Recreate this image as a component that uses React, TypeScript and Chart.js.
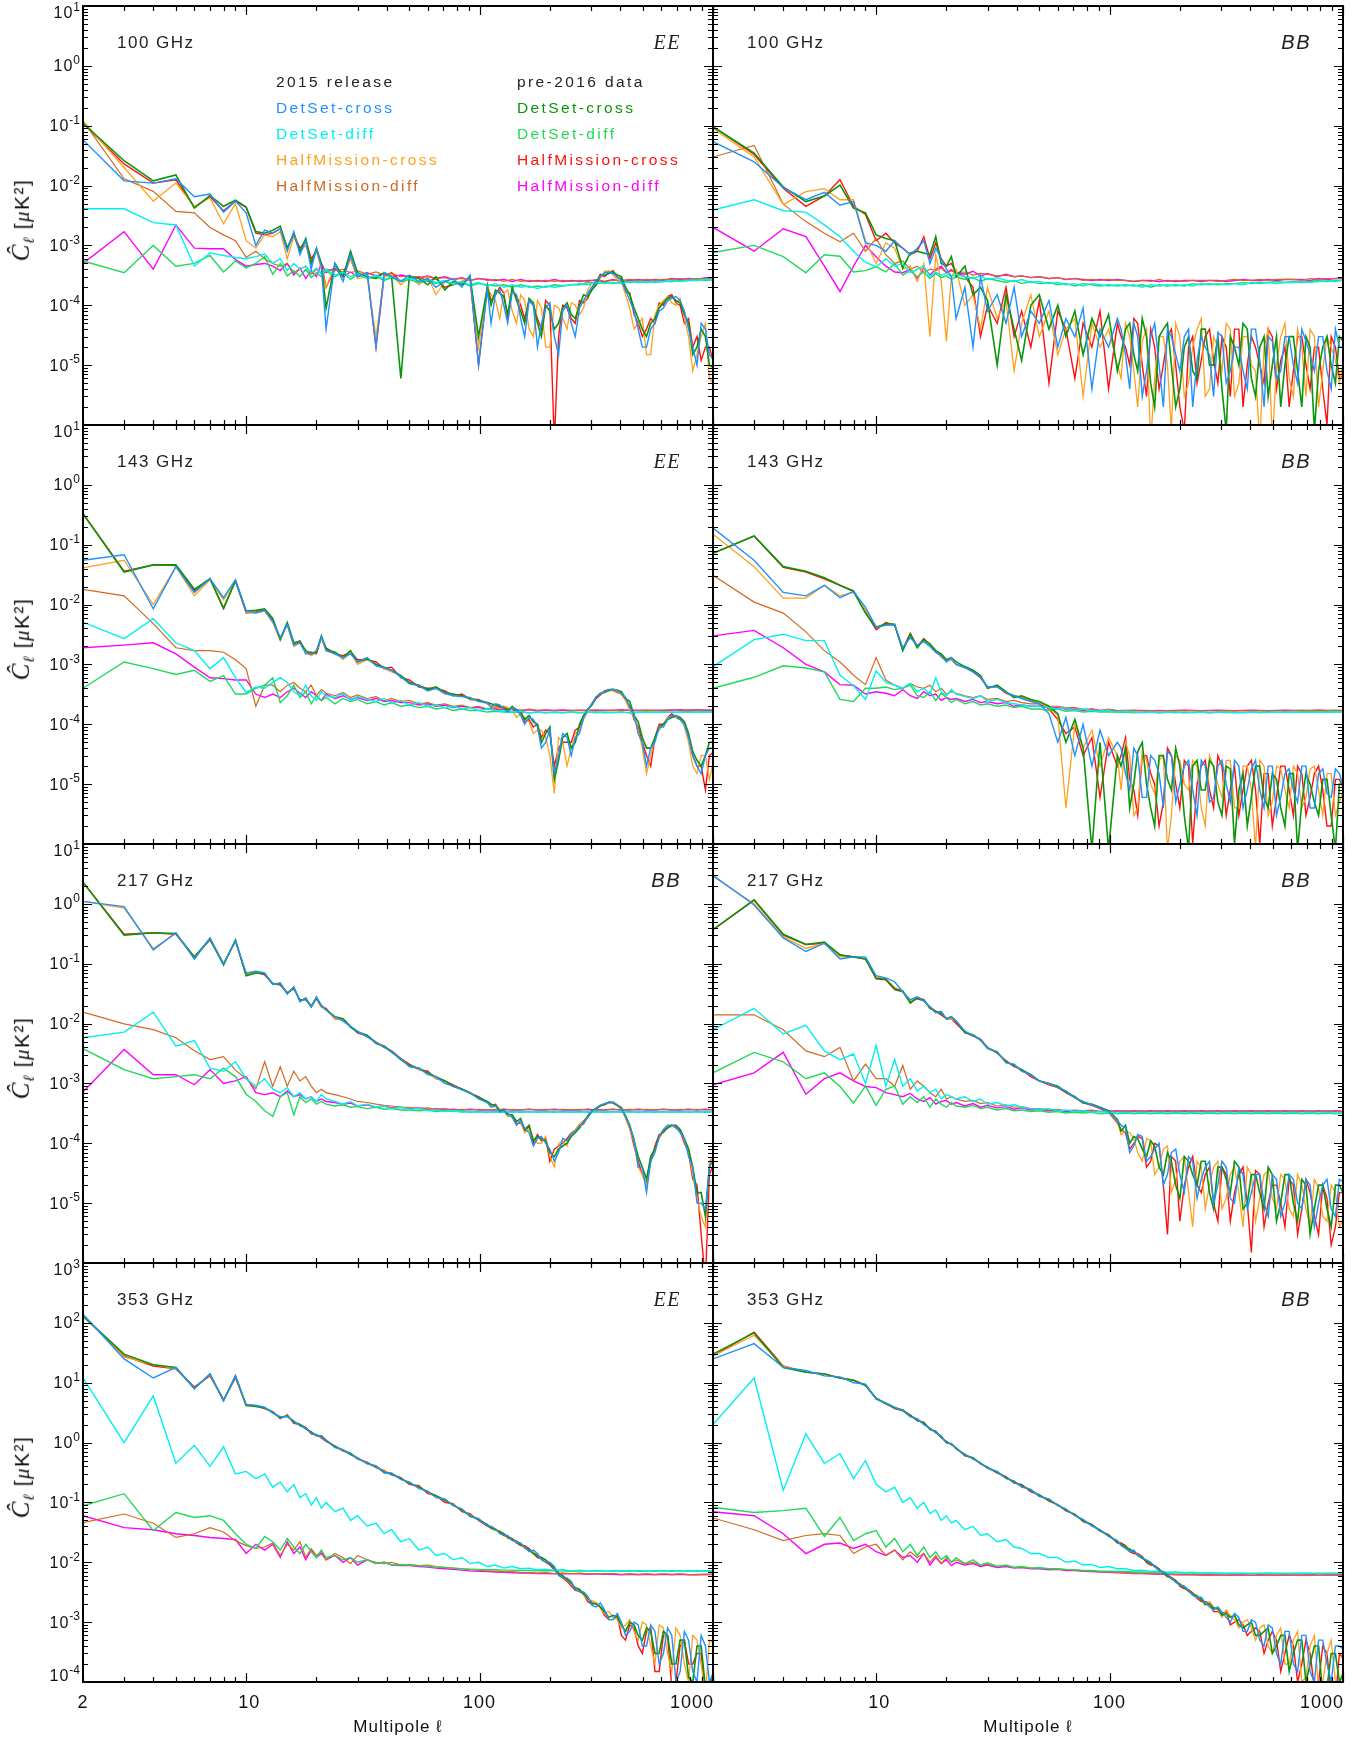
import React, { useEffect, useRef } from 'react';
import { Chart, registerables } from 'chart.js';
Chart.register(...registerables);

// Multipole grid shared by all panels
const ELL = [
  2, 3, 4, 5, 6, 7, 8, 9, 10, 11,
  12, 13, 14, 15, 16, 17, 18, 19, 20, 21,
  22, 24, 26, 28, 30, 33, 36, 39, 42, 46,
  50, 55, 60, 65, 71, 77, 84, 91, 99, 108,
  117, 127, 138, 150, 163, 177, 192, 209, 227, 247,
  268, 291, 316, 343, 373, 405, 440, 478, 519, 564,
  613, 666, 723, 786, 854, 928, 1050,
];
// Extra high-multipole samples read for the (noisier) cross spectra
const ELL_X = [
  112, 122, 132, 144, 156, 170, 184, 200, 218, 237,
  257, 279, 303, 329, 358, 389, 422, 459, 498, 541,
  588, 639, 694, 754, 819, 890, 965,
];

const X_TICK_LABELS = ['2', '10', '100', '1000'];
const X_TICK_VALUES = [2, 10, 100, 1000];

// ---------------- 100 GHz EE ----------------
const p1_dsC15 = [
  0.058, 0.012, 0.011, 0.013, 0.0065, 0.0072, 0.0036, 0.0055, 0.0035, 0.001,
  0.0018, 0.0016, 0.0019, 0.0008, 0.0017, 0.0007, 0.0012, 0.0004, 0.0009, 0.00045,
  0.00004, 0.0005, 0.00025, 0.0007, 0.0003, 0.00035, 0.00002, 0.00035, 0.0003, 0.00025,
  0.00032, 0.00025, 0.00028, 0.0002, 0.00025, 0.00028, 0.0002, 0.00032, 0.00001, 0.00018,
  0.00016, 0.0001, 0.00017, 0.00006, 0.00012, 0.00002, 0.00009, 0.00003, 0.00008, 0.00005,
  0.00009, 0.00016, 0.00026, 0.00035, 0.00034, 0.00026, 0.00012, 0.00004, 0.00002, 0.00005,
  0.00009, 0.00013, 0.00012, 0.00004, 0.00001, 0.00004, 0.00001,
];
const p1x_dsC15 = [
  0.00005, 0.00018, 0.00005, 0.00015, 0.00003, 0.0001, 0.00005, 0.00011, 0.000015, 0.0001,
  0.00003, 0.00012, 0.0002, 0.0003, 0.00036, 0.0003, 0.00018, 0.00008, 0.00002, 0.00004,
  0.00008, 0.00012, 0.00014, 0.00008, 0.00002, 0.00005, 0.000015,
];
const p1_dsD15 = [
  0.0041, 0.0041, 0.0024, 0.0022, 0.00045, 0.00075, 0.00068, 0.00063, 0.0006, 0.00065,
  0.00072, 0.0005, 0.0006, 0.00038, 0.0005, 0.0004, 0.00045, 0.00035, 0.00042, 0.00033,
  0.0004, 0.00032, 0.00036, 0.0003, 0.00034, 0.00028, 0.00032, 0.00027, 0.0003, 0.00026,
  0.00028, 0.00025, 0.00027, 0.00024, 0.00026, 0.00023, 0.00025, 0.00022, 0.00024, 0.00021,
  0.00023, 0.0002, 0.00022, 0.0002, 0.00021, 0.00019, 0.00021, 0.0002, 0.00021, 0.00022,
  0.00023, 0.00022, 0.00024, 0.00023, 0.00024, 0.00023, 0.00025, 0.00024, 0.00025, 0.00024,
  0.00025, 0.00026, 0.00025, 0.00026, 0.00026, 0.00027, 0.00027,
];
const p1_hmC15 = [
  0.12, 0.02, 0.0055, 0.011, 0.0045, 0.0062, 0.0023, 0.005, 0.0012, 0.0009,
  0.0015, 0.0014, 0.0017, 0.0006, 0.0014, 0.0008, 0.001, 0.0005, 0.0008, 0.0004,
  0.0002, 0.00045, 0.0003, 0.0006, 0.00028, 0.0003, 0.00003, 0.0003, 0.00032, 0.00022,
  0.0003, 0.00022, 0.0003, 0.00015, 0.00025, 0.00022, 0.00025, 0.00028, 0.00002, 0.0002,
  0.00012, 0.00016, 0.00008, 0.00015, 0.00004, 0.00012, 0.00002, 0.0001, 0.00006, 0.00011,
  0.00007, 0.00018, 0.00022, 0.00037, 0.00032, 0.00025, 0.00009, 0.00005, 0.000015, 0.00007,
  0.00012, 0.00011, 0.00013, 0.00003, 0.000015, 0.00005, 0.000004,
];
const p1x_hmC15 = [
  0.00015, 0.00006, 0.00018, 0.00005, 0.00012, 0.00003, 0.00009, 0.00002, 0.00009, 0.00004,
  0.0001, 0.00009, 0.00024, 0.00028, 0.00038, 0.00027, 0.00015, 0.00004, 0.00006, 0.000015,
  0.0001, 0.00014, 0.0001, 0.00006, 0.000008, 0.00003, 0.000006,
];
const p1_hmD15 = [
  0.12, 0.013, 0.008, 0.0037, 0.0035, 0.002, 0.0015, 0.0012, 0.00063, 0.0008,
  0.0006, 0.0005, 0.00045, 0.0005, 0.00035, 0.0004, 0.00045, 0.00033, 0.0004, 0.00035,
  0.0004, 0.00038, 0.0004, 0.00035, 0.00038, 0.00033, 0.00036, 0.00032, 0.00034, 0.0003,
  0.00031, 0.00029, 0.0003, 0.00028, 0.00029, 0.00027, 0.00028, 0.00026, 0.00028, 0.00026,
  0.00027, 0.00025, 0.00027, 0.00025, 0.00026, 0.00025, 0.00026, 0.00025, 0.00026, 0.00025,
  0.00026, 0.00025, 0.00027, 0.00025, 0.00026, 0.00026, 0.00027, 0.00026, 0.00027, 0.00026,
  0.00027, 0.00027, 0.00028, 0.00027, 0.00028, 0.00028, 0.00029,
];
const p1_dsCpre = [
  0.11, 0.026, 0.012, 0.015, 0.0042, 0.0068, 0.0045, 0.0057, 0.0044, 0.0017,
  0.0016, 0.0018, 0.0021, 0.0009, 0.0016, 0.0008, 0.0013, 0.0005, 0.0009, 0.0005,
  0.00009, 0.0005, 0.0003, 0.0008, 0.00035, 0.0003, 0.00028, 0.00035, 0.0003, 0.000006,
  0.0003, 0.00028, 0.00022, 0.0003, 0.00018, 0.00025, 0.00022, 0.0003, 0.00003, 0.0002,
  0.00018, 0.00014, 0.0002, 0.00008, 0.00013, 0.00005, 0.0001, 0.00004, 0.00009, 0.00007,
  0.0001, 0.00014, 0.00022, 0.00032, 0.00036, 0.0003, 0.00015, 0.00006, 0.00003, 0.00006,
  0.00011, 0.00014, 0.00011, 0.00005, 0.00002, 0.00003, 0.000008,
];
const p1x_dsCpre = [
  0.0001, 0.00016, 0.00007, 0.00012, 0.00005, 0.00011, 0.00003, 0.00008, 0.00005, 0.00011,
  0.00006, 0.00015, 0.00018, 0.00031, 0.00034, 0.00032, 0.0002, 0.00009, 0.00004, 0.00005,
  0.00009, 0.00013, 0.00012, 0.00007, 0.000015, 0.00004, 0.00001,
];
const p1_dsDpre = [
  0.00055, 0.00035, 0.001, 0.00045, 0.0005, 0.00068, 0.00036, 0.00055, 0.00042, 0.0005,
  0.00065, 0.00033, 0.0005, 0.00031, 0.00038, 0.0003, 0.0004, 0.00029, 0.00035, 0.0003,
  0.00038, 0.0003, 0.00035, 0.00027, 0.00033, 0.00028, 0.0003, 0.00026, 0.00029, 0.00025,
  0.00027, 0.00024, 0.00026, 0.00023, 0.00025, 0.00022, 0.00024, 0.00021, 0.00023, 0.00022,
  0.00021, 0.00022, 0.0002, 0.00022, 0.0002, 0.00021, 0.0002, 0.00022, 0.00021, 0.00022,
  0.00022, 0.00024, 0.00023, 0.00024, 0.00023, 0.00025, 0.00024, 0.00025, 0.00024, 0.00025,
  0.00025, 0.00025, 0.00026, 0.00026, 0.00027, 0.00026, 0.00027,
];
const p1_hmCpre = [
  0.11, 0.023, 0.011, 0.0125, 0.0044, 0.0065, 0.0038, 0.0055, 0.0043, 0.0016,
  0.0015, 0.0016, 0.0019, 0.0009, 0.0015, 0.0009, 0.0012, 0.0006, 0.0008, 0.0005,
  0.0002, 0.0004, 0.00035, 0.0006, 0.0003, 0.00035, 0.00002, 0.0003, 0.00035, 0.00025,
  0.00028, 0.0003, 0.00025, 0.00028, 0.0002, 0.00022, 0.00025, 0.00028, 0.00001, 0.00022,
  0.00015, 0.00016, 0.00018, 0.0001, 0.00012, 0.00006, 0.00012, 0.0000005, 0.0001, 0.00006,
  0.00012, 0.00013, 0.00024, 0.0003, 0.00038, 0.00028, 0.00016, 0.00005, 0.00004, 0.00005,
  0.0001, 0.00015, 0.0001, 0.00006, 0.00003, 0.00002, 0.000006,
];
const p1x_hmCpre = [
  0.00012, 0.0002, 0.00006, 0.00014, 0.00006, 0.0001, 0.00004, 0.0001, 0.00003, 0.00009,
  0.00005, 0.00011, 0.0002, 0.00033, 0.00035, 0.00029, 0.00017, 0.00007, 0.00003, 0.00006,
  0.00011, 0.00014, 0.00011, 0.00005, 0.00002, 0.000012, 0.00002,
];
const p1_hmDpre = [
  0.0005, 0.0017, 0.0004, 0.0022, 0.0009, 0.00088, 0.00088, 0.00058, 0.00045, 0.00048,
  0.0005, 0.00045, 0.00038, 0.0005, 0.00032, 0.00042, 0.00028, 0.00038, 0.0003, 0.0005,
  0.00035, 0.00042, 0.0003, 0.00036, 0.0003, 0.00035, 0.00031, 0.00034, 0.0003, 0.00032,
  0.0003, 0.00029, 0.00031, 0.00028, 0.0003, 0.00027, 0.00029, 0.00026, 0.00028, 0.00027,
  0.00026, 0.00027, 0.00025, 0.00027, 0.00025, 0.00026, 0.00025, 0.00027, 0.00025, 0.00026,
  0.00025, 0.00026, 0.00026, 0.00025, 0.00027, 0.00025, 0.00026, 0.00027, 0.00026, 0.00027,
  0.00026, 0.00028, 0.00027, 0.00028, 0.00027, 0.00029, 0.00028,
];

// ---------------- 100 GHz BB ----------------
const p2_dsC15 = [
  0.054, 0.025, 0.0093, 0.0058, 0.0077, 0.0047, 0.0054, 0.0011, 0.001, 0.0008,
  0.0012, 0.0009, 0.0007, 0.0009, 0.0012, 0.0005, 0.0009, 0.0006, 0.0004, 0.0003,
  0.00006, 0.0002, 0.00002, 0.0003, 0.00008, 0.00015, 0.00005, 0.0002, 0.00003, 0.00008,
  0.00005, 0.00012, 0.00002, 0.00006, 0.00003, 0.00009, 0.000004, 0.00004, 0.00002, 0.00006,
  0.000015, 0.00005, 0.000003, 0.00003, 0.00001, 0.00004, 0.000015, 0.00003, 0.000002, 0.00003,
  0.000015, 0.000035, 0.000005, 0.00002, 0.000008, 0.00004, 0.000012, 0.00003, 0.000006, 0.00003,
  0.00001, 0.00004, 0.000015, 0.00003, 0.000008, 0.00004, 0.00002,
];
const p2x_dsC15 = [
  0.00004, 0.000004, 0.00003, 0.000008, 0.00005, 0.000002, 0.00003, 0.000008, 0.00004, 0.000012,
  0.00002, 0.000003, 0.00003, 0.000008, 0.00002, 0.000004, 0.00004, 0.000002, 0.000025, 0.000008,
  0.00003, 0.000005, 0.000025, 0.000008, 0.00003, 0.000004, 0.00002,
];
const p2_dsD15 = [
  0.0039, 0.0058, 0.0038, 0.0036, 0.0022, 0.0014, 0.0008, 0.00052, 0.00044, 0.0006,
  0.00045, 0.0005, 0.00035, 0.0004, 0.00045, 0.0003, 0.00036, 0.00032, 0.00034, 0.0003,
  0.00033, 0.0003, 0.00028, 0.00031, 0.00027, 0.00029, 0.00026, 0.00025, 0.00027, 0.00024,
  0.00025, 0.00023, 0.00024, 0.00022, 0.00023, 0.00021, 0.00023, 0.00022, 0.00021, 0.00022,
  0.00021, 0.00022, 0.0002, 0.00022, 0.00021, 0.00022, 0.00021, 0.00022, 0.00021, 0.00023,
  0.00022, 0.00023, 0.00022, 0.00023, 0.00022, 0.00024, 0.00023, 0.00024, 0.00023, 0.00024,
  0.00024, 0.00025, 0.00024, 0.00025, 0.00026, 0.00025, 0.00027,
];
const p2_hmC15 = [
  0.09, 0.03, 0.0048, 0.0079, 0.0089, 0.0058, 0.0058, 0.0012, 0.0005, 0.0011,
  0.0009, 0.0004, 0.00045, 0.00025, 0.0005, 0.00003, 0.0007, 0.00025, 0.000025, 0.0003,
  0.0004, 0.0001, 0.00015, 0.00004, 0.0002, 0.00006, 0.00012, 0.000008, 0.00005, 0.00015,
  0.00003, 0.00008, 0.000015, 0.00004, 0.00006, 0.000003, 0.00005, 0.00002, 0.00004, 0.00001,
  0.00005, 0.000008, 0.000025, 0.0000005, 0.00003, 0.00001, 0.00005, 0.000003, 0.00002, 0.00006,
  0.000004, 0.00002, 0.00005, 0.000003, 0.00003, 0.00001, 0.0000005, 0.00004, 0.00001, 0.00005,
  0.000003, 0.00002, 0.00004, 0.000002, 0.00003, 0.000012, 0.00003,
];
const p2x_hmC15 = [
  0.000006, 0.00003, 0.000002, 0.00004, 0.000006, 0.00003, 0.0000008, 0.00003, 0.000005, 0.00004,
  0.000003, 0.00003, 0.000008, 0.00004, 0.000005, 0.00003, 0.000008, 0.00002, 0.0000005, 0.00003,
  0.000006, 0.00004, 0.000003, 0.00003, 0.000008, 0.00002, 0.000005,
];
const p2_hmD15 = [
  0.03, 0.047, 0.0049, 0.0025, 0.0016, 0.00115, 0.0016, 0.0008, 0.0013, 0.0007,
  0.0005, 0.00055, 0.0004, 0.00045, 0.00035, 0.0004, 0.00038, 0.00042, 0.00035, 0.0004,
  0.00035, 0.00036, 0.00032, 0.00034, 0.00033, 0.00031, 0.00032, 0.0003, 0.00031, 0.00029,
  0.0003, 0.00028, 0.00029, 0.00027, 0.00028, 0.00026, 0.00027, 0.00026, 0.00027, 0.00026,
  0.00026, 0.00025, 0.00026, 0.00025, 0.00027, 0.00025, 0.00026, 0.00025, 0.00026, 0.00026,
  0.00026, 0.00025, 0.00026, 0.00027, 0.00026, 0.00026, 0.00027, 0.00026, 0.00027, 0.00027,
  0.00027, 0.00026, 0.00028, 0.00027, 0.00028, 0.00028, 0.00029,
];
const p2_dsCpre = [
  0.096, 0.035, 0.0095, 0.0054, 0.0067, 0.0102, 0.0042, 0.0035, 0.0015, 0.0013,
  0.0012, 0.00042, 0.00075, 0.0008, 0.00075, 0.0007, 0.0014, 0.0005, 0.00045, 0.00065,
  0.0003, 0.00045, 0.00015, 0.0002, 0.00012, 0.00001, 0.00015, 0.00004, 0.000012, 0.0001,
  0.00015, 0.00004, 0.0001, 0.00003, 0.00008, 0.000015, 0.00006, 0.00003, 0.00007, 0.000008,
  0.00004, 0.000015, 0.00006, 0.000005, 0.00003, 0.00005, 0.000002, 0.00002, 0.000008, 0.00004,
  0.00001, 0.00003, 0.0000008, 0.00002, 0.00005, 0.000006, 0.00002, 0.000003, 0.00003, 0.00001,
  0.00003, 0.000002, 0.00002, 0.000008, 0.00003, 0.000005, 0.00002,
];
const p2x_dsCpre = [
  0.000015, 0.00005, 0.000008, 0.00003, 0.000002, 0.00004, 0.00001, 0.000004, 0.00003, 0.000006,
  0.00004, 0.00001, 0.000004, 0.00003, 0.00001, 0.00004, 0.000003, 0.00003, 0.00001, 0.000002,
  0.00003, 0.000008, 0.00003, 0.0000008, 0.00002, 0.00001, 0.00003,
];
const p2_dsDpre = [
  0.00076, 0.001, 0.00065, 0.00035, 0.0007, 0.00066, 0.00036, 0.00038, 0.00044, 0.00036,
  0.0005, 0.00032, 0.00038, 0.0003, 0.00036, 0.00028, 0.00034, 0.00029, 0.00031, 0.00027,
  0.0003, 0.00027, 0.00029, 0.00025, 0.00028, 0.00026, 0.00024, 0.00026, 0.00023, 0.00025,
  0.00023, 0.00024, 0.00022, 0.00023, 0.00021, 0.00023, 0.00022, 0.00021, 0.00022, 0.00021,
  0.00022, 0.00021, 0.00022, 0.0002, 0.00022, 0.00021, 0.00022, 0.00021, 0.00023, 0.00022,
  0.00023, 0.00022, 0.00023, 0.00023, 0.00024, 0.00023, 0.00024, 0.00024, 0.00025, 0.00024,
  0.00025, 0.00024, 0.00025, 0.00026, 0.00025, 0.00026, 0.00027,
];
const p2_hmCpre = [
  0.096, 0.033, 0.009, 0.0045, 0.0067, 0.0125, 0.0045, 0.0033, 0.0012, 0.0016,
  0.0011, 0.0009, 0.0007, 0.0008, 0.0014, 0.0006, 0.0011, 0.0006, 0.00045, 0.0005,
  0.00035, 0.0003, 0.0002, 0.00003, 0.0001, 0.00005, 0.0002, 0.00003, 0.00008, 0.00002,
  0.00012, 0.000005, 0.00008, 0.00004, 0.000006, 0.00005, 0.00002, 0.00008, 0.000004, 0.00005,
  0.00002, 0.00006, 0.00001, 0.00004, 0.000004, 0.00003, 0.00001, 0.0000008, 0.00003, 0.000012,
  0.00004, 0.000005, 0.00002, 0.00004, 0.000002, 0.00003, 0.00001, 0.00004, 0.000004, 0.00002,
  0.000008, 0.00003, 0.000004, 0.00002, 0.000001, 0.00002, 0.000008,
];
const p2x_hmCpre = [
  0.00003, 0.00001, 0.00005, 0.000003, 0.00002, 0.00001, 0.00004, 0.000002, 0.00002, 0.000005,
  0.00003, 0.000012, 0.00003, 0.000003, 0.00004, 0.00001, 0.00002, 0.000005, 0.00003, 0.000012,
  0.000002, 0.00003, 0.00001, 0.00002, 0.000004, 0.00003, 0.000006,
];
const p2_hmDpre = [
  0.002, 0.0008, 0.0019, 0.0014, 0.00045, 0.00017, 0.00045, 0.001, 0.00064, 0.00045,
  0.00036, 0.00035, 0.0004, 0.00028, 0.00042, 0.00032, 0.0004, 0.00045, 0.00035, 0.00038,
  0.00035, 0.00033, 0.00037, 0.00031, 0.00034, 0.0003, 0.00033, 0.0003, 0.00031, 0.00029,
  0.0003, 0.00028, 0.00029, 0.00027, 0.00028, 0.00027, 0.00026, 0.00027, 0.00026, 0.00027,
  0.00026, 0.00025, 0.00026, 0.00026, 0.00025, 0.00026, 0.00025, 0.00026, 0.00026, 0.00025,
  0.00026, 0.00026, 0.00025, 0.00026, 0.00027, 0.00026, 0.00026, 0.00027, 0.00026, 0.00027,
  0.00027, 0.00027, 0.00026, 0.00028, 0.00027, 0.00028, 0.00029,
];

// ---------------- 143 GHz EE ----------------
const p3_dsC15 = [
  0.055, 0.068, 0.0085, 0.043, 0.016, 0.027, 0.013, 0.026, 0.0078, 0.0072,
  0.008, 0.0052, 0.0028, 0.0046, 0.0021, 0.0023, 0.0015, 0.0015, 0.0017, 0.0029,
  0.0017, 0.0015, 0.0013, 0.0015, 0.0011, 0.0013, 0.00095, 0.00088, 0.0008, 0.00062,
  0.00048, 0.00044, 0.00036, 0.0004, 0.00033, 0.0003, 0.00029, 0.00028, 0.00024, 0.00023,
  0.00022, 0.00018, 0.00019, 0.00014, 0.00013, 0.00009, 0.00005, 0.000015, 0.00007, 0.00003,
  0.00007, 0.00018, 0.00029, 0.00035, 0.00039, 0.00033, 0.00019, 0.00007, 0.00002, 0.00005,
  0.00009, 0.00014, 0.00012, 0.00006, 0.00002, 0.00003, 0.00004,
];
const p3x_dsC15 = [
  0.00019, 0.00021, 0.00016, 0.00018, 0.0001, 0.00012, 0.00004, 0.00008, 0.00003, 0.00006,
  0.00006, 0.00013, 0.00022, 0.00032, 0.00038, 0.00036, 0.00028, 0.00015, 0.00005, 0.00004,
  0.00009, 0.00012, 0.00014, 0.0001, 0.00003, 0.000015, 0.00004,
];
const p3_dsD15 = [
  0.0051, 0.0027, 0.0058, 0.0023, 0.0017, 0.00085, 0.0013, 0.0006, 0.00034, 0.00042,
  0.0004, 0.0005, 0.0006, 0.0005, 0.00035, 0.0003, 0.00045, 0.0003, 0.00025, 0.00035,
  0.0003, 0.00028, 0.00033, 0.00025, 0.00029, 0.00026, 0.00024, 0.00027, 0.00022, 0.00025,
  0.00021, 0.00023, 0.0002, 0.00021, 0.00019, 0.0002, 0.00018, 0.00019, 0.00017, 0.00018,
  0.00017, 0.000165, 0.00016, 0.000165, 0.000155, 0.00016, 0.000155, 0.00016, 0.000155, 0.00016,
  0.000155, 0.00016, 0.000155, 0.00016, 0.000155, 0.00016, 0.000155, 0.00016, 0.000158, 0.00016,
  0.000158, 0.00016, 0.000158, 0.00016, 0.00016, 0.000162, 0.00016,
];
const p3_hmC15 = [
  0.041, 0.055, 0.01, 0.043, 0.014, 0.026, 0.012, 0.025, 0.0075, 0.0073,
  0.0078, 0.005, 0.0025, 0.0047, 0.002, 0.0023, 0.0016, 0.0014, 0.0016, 0.0028,
  0.0017, 0.0016, 0.0012, 0.0016, 0.001, 0.0012, 0.001, 0.00085, 0.00075, 0.00065,
  0.00047, 0.00045, 0.00037, 0.0004, 0.00032, 0.00031, 0.0003, 0.00026, 0.00025, 0.00022,
  0.0002, 0.0002, 0.00017, 0.00015, 0.00011, 0.00008, 0.00006, 0.000007, 0.00005, 0.00004,
  0.00008, 0.00016, 0.00028, 0.00034, 0.00037, 0.00031, 0.00017, 0.00008, 0.000015, 0.00006,
  0.0001, 0.00013, 0.00013, 0.00005, 0.000015, 0.00003, 0.00005,
];
const p3x_hmC15 = [
  0.0002, 0.00018, 0.00019, 0.00013, 0.00013, 0.00007, 0.00008, 0.00003, 0.00006, 0.00002,
  0.00007, 0.00012, 0.00023, 0.00033, 0.00036, 0.00035, 0.00025, 0.00013, 0.00004, 0.00003,
  0.00008, 0.00013, 0.00013, 0.00009, 0.00002, 0.00003, 0.000012,
];
const p3_hmD15 = [
  0.018, 0.014, 0.0048, 0.0019, 0.0017, 0.0017, 0.0016, 0.0012, 0.00085, 0.0002,
  0.00045, 0.00045, 0.00035, 0.00045, 0.0005, 0.0004, 0.00035, 0.00045, 0.0003, 0.00038,
  0.00033, 0.0003, 0.00034, 0.00028, 0.00031, 0.00027, 0.00029, 0.00025, 0.00027, 0.00024,
  0.00025, 0.00022, 0.00023, 0.00021, 0.00022, 0.0002, 0.00021, 0.00019, 0.0002, 0.00018,
  0.00019, 0.00018, 0.00018, 0.00017, 0.00018, 0.00017, 0.000175, 0.00017, 0.000175, 0.00017,
  0.000172, 0.00017, 0.000175, 0.00017, 0.000172, 0.00017, 0.000175, 0.00017, 0.000172, 0.00017,
  0.000172, 0.000175, 0.00017, 0.000175, 0.000172, 0.000175, 0.00017,
];
const p3_dsCpre = [
  0.33, 0.035, 0.046, 0.046, 0.018, 0.027, 0.0087, 0.025, 0.0078, 0.008,
  0.0085, 0.0059, 0.0026, 0.005, 0.0023, 0.0024, 0.0017, 0.0015, 0.0016, 0.003,
  0.0018, 0.0016, 0.0013, 0.0017, 0.0011, 0.00125, 0.001, 0.0009, 0.0008, 0.00065,
  0.0005, 0.00045, 0.00038, 0.00042, 0.00034, 0.00032, 0.0003, 0.00027, 0.00025, 0.00023,
  0.00021, 0.00019, 0.0002, 0.00016, 0.00014, 0.0001, 0.00007, 0.000012, 0.00006, 0.00004,
  0.0001, 0.00018, 0.00028, 0.00034, 0.00038, 0.00035, 0.00024, 0.00011, 0.00004, 0.00006,
  0.0001, 0.00013, 0.00013, 0.00007, 0.000025, 0.00003, 0.00005,
];
const p3x_dsCpre = [
  0.00022, 0.0002, 0.00017, 0.00017, 0.00012, 0.00011, 0.00005, 0.00009, 0.000025, 0.00007,
  0.00005, 0.00014, 0.00021, 0.00033, 0.00037, 0.00037, 0.00027, 0.00014, 0.00006, 0.00004,
  0.00009, 0.00012, 0.00014, 0.00011, 0.000035, 0.00002, 0.00005,
];
const p3_dsDpre = [
  0.0004, 0.0011, 0.00085, 0.00068, 0.0008, 0.00052, 0.00065, 0.00032, 0.00032, 0.0004,
  0.00045, 0.0006, 0.00023, 0.0003, 0.00045, 0.00028, 0.00035, 0.00022, 0.0003, 0.00025,
  0.00028, 0.00022, 0.00027, 0.00024, 0.00026, 0.00022, 0.00024, 0.00021, 0.00023, 0.0002,
  0.00021, 0.00019, 0.0002, 0.00018, 0.00019, 0.00017, 0.00018, 0.00017, 0.00017, 0.00016,
  0.000165, 0.00016, 0.000158, 0.00016, 0.000155, 0.00016, 0.000155, 0.000158, 0.000155, 0.00016,
  0.000155, 0.000158, 0.00016, 0.000155, 0.000158, 0.00016, 0.000155, 0.000158, 0.00016, 0.000158,
  0.00016, 0.000158, 0.00016, 0.000162, 0.00016, 0.000162, 0.00016,
];
const p3_hmCpre = [
  0.33, 0.036, 0.046, 0.045, 0.017, 0.027, 0.0085, 0.025, 0.0072, 0.0075,
  0.0082, 0.0055, 0.0027, 0.0048, 0.0022, 0.0025, 0.0016, 0.0016, 0.0015, 0.0028,
  0.0019, 0.0015, 0.0014, 0.0016, 0.0012, 0.0012, 0.0011, 0.00085, 0.0009, 0.0006,
  0.00055, 0.00042, 0.0004, 0.0004, 0.00036, 0.0003, 0.00032, 0.00026, 0.00026, 0.00022,
  0.0002, 0.0002, 0.00018, 0.00017, 0.00012, 0.0001, 0.00008, 0.00002, 0.00005, 0.00005,
  0.00009, 0.00017, 0.00027, 0.00036, 0.00037, 0.00033, 0.0002, 0.00009, 0.00003, 0.00006,
  0.0001, 0.00015, 0.00012, 0.00006, 0.00002, 0.000008, 0.00004,
];
const p3x_hmCpre = [
  0.0002, 0.00019, 0.00018, 0.00016, 0.00011, 0.00009, 0.00006, 0.00007, 0.00004, 0.00005,
  0.00008, 0.00014, 0.00022, 0.00031, 0.00038, 0.00034, 0.00026, 0.00012, 0.00005, 0.00002,
  0.0001, 0.00013, 0.00013, 0.0001, 0.00003, 0.00002, 0.00003,
];
const p3_hmDpre = [
  0.0019, 0.0021, 0.0023, 0.0015, 0.0009, 0.0006, 0.00058, 0.00055, 0.00055, 0.00032,
  0.00028, 0.00032, 0.00028, 0.00035, 0.0004, 0.00033, 0.00028, 0.00035, 0.0003, 0.00025,
  0.00032, 0.00027, 0.0003, 0.00026, 0.00028, 0.00025, 0.00027, 0.00024, 0.00025, 0.00023,
  0.00023, 0.00021, 0.00022, 0.0002, 0.00021, 0.00019, 0.0002, 0.00019, 0.00019, 0.00018,
  0.00018, 0.000175, 0.00018, 0.00017, 0.000175, 0.00017, 0.000172, 0.00017, 0.000172, 0.00017,
  0.00017, 0.000172, 0.00017, 0.000172, 0.00017, 0.000175, 0.00017, 0.000172, 0.00017, 0.000172,
  0.00017, 0.000172, 0.000175, 0.00017, 0.000175, 0.00017, 0.000172,
];

// ---------------- 143 GHz BB ----------------
const p4_dsC15 = [
  0.19, 0.055, 0.016, 0.014, 0.021, 0.013, 0.0166, 0.009, 0.0042, 0.0045,
  0.0046, 0.0019, 0.0028, 0.0021, 0.0024, 0.002, 0.0016, 0.0014, 0.0011, 0.0013,
  0.001, 0.00088, 0.00075, 0.00062, 0.00042, 0.00042, 0.00034, 0.0003, 0.00027, 0.00024,
  0.00022, 0.00015, 0.00005, 0.00013, 0.00003, 0.0001, 0.00002, 0.00008, 0.00003, 0.00005,
  0.000015, 0.00004, 0.000006, 0.00003, 0.000015, 0.000035, 0.000005, 0.00002, 0.000008, 0.000025,
  0.000005, 0.00002, 0.00001, 0.000025, 0.000004, 0.000018, 0.000008, 0.00002, 0.000003, 0.000015,
  0.000008, 0.00002, 0.000004, 0.000015, 0.000007, 0.000018, 0.000005,
];
const p4x_dsC15 = [
  0.00004, 0.000008, 0.00003, 0.000006, 0.000025, 0.000004, 0.00003, 0.00001, 0.000025, 0.000003,
  0.00002, 0.000006, 0.000025, 0.000005, 0.00002, 0.000008, 0.000025, 0.000004, 0.00002, 0.000006,
  0.000018, 0.000005, 0.00002, 0.000004, 0.000018, 0.000006, 0.000015,
];
const p4_dsD15 = [
  0.00092, 0.0026, 0.0032, 0.0025, 0.0025, 0.00066, 0.00044, 0.00026, 0.00078, 0.0005,
  0.00045, 0.0004, 0.00048, 0.00035, 0.0004, 0.00032, 0.0006, 0.00035, 0.0003, 0.00038,
  0.00032, 0.00029, 0.00027, 0.0003, 0.00024, 0.00026, 0.00023, 0.00022, 0.00021, 0.0002,
  0.0002, 0.00019, 0.00018, 0.00019, 0.00017, 0.00018, 0.00017, 0.000165, 0.00017, 0.00016,
  0.000165, 0.00016, 0.000155, 0.00016, 0.000155, 0.00016, 0.000155, 0.000158, 0.000155, 0.00016,
  0.000155, 0.00016, 0.000155, 0.000158, 0.000155, 0.00016, 0.000155, 0.000158, 0.00016, 0.000158,
  0.00016, 0.000158, 0.00016, 0.000158, 0.00016, 0.000162, 0.00016,
];
const p4_hmC15 = [
  0.15, 0.043, 0.0128, 0.0128, 0.021, 0.014, 0.016, 0.008, 0.0043, 0.0046,
  0.0045, 0.0018, 0.003, 0.002, 0.0025, 0.0021, 0.0017, 0.0013, 0.0012, 0.0012,
  0.001, 0.0009, 0.00078, 0.00064, 0.0004, 0.00044, 0.00034, 0.00029, 0.00029, 0.00025,
  0.00023, 0.00019, 0.00014, 0.000004, 0.0001, 0.00004, 0.00008, 0.00002, 0.00006, 0.00003,
  0.00005, 0.000003, 0.000035, 0.00001, 0.000025, 0.0000008, 0.00003, 0.00001, 0.000025, 0.000004,
  0.00003, 0.00001, 0.000025, 0.000004, 0.00002, 0.000008, 0.000025, 0.000003, 0.00002, 0.000008,
  0.00002, 0.000004, 0.000018, 0.000008, 0.000015, 0.000003, 0.000012,
];
const p4x_hmC15 = [
  0.000008, 0.00003, 0.000004, 0.000025, 0.000007, 0.00003, 0.000003, 0.000025, 0.000008, 0.00002,
  0.000002, 0.00002, 0.000006, 0.000025, 0.000004, 0.00002, 0.0000008, 0.00002, 0.000005, 0.000018,
  0.000004, 0.000015, 0.000006, 0.00002, 0.000003, 0.000015, 0.000005,
];
const p4_hmD15 = [
  0.031, 0.011, 0.0072, 0.0035, 0.0017, 0.0011, 0.00066, 0.00046, 0.0013, 0.00055,
  0.00045, 0.0004, 0.00048, 0.00042, 0.0004, 0.00045, 0.00035, 0.0004, 0.00032, 0.00035,
  0.00033, 0.0003, 0.00028, 0.0003, 0.00026, 0.00027, 0.00024, 0.00025, 0.00023, 0.00022,
  0.00022, 0.0002, 0.0002, 0.00019, 0.00019, 0.00018, 0.00018, 0.00017, 0.00018, 0.00017,
  0.00017, 0.000172, 0.00017, 0.000168, 0.00017, 0.000168, 0.00017, 0.000168, 0.00017, 0.000168,
  0.00017, 0.000168, 0.00017, 0.000168, 0.00017, 0.000168, 0.00017, 0.000168, 0.00017, 0.000168,
  0.00017, 0.000172, 0.00017, 0.000172, 0.00017, 0.000172, 0.00017,
];
const p4_dsCpre = [
  0.072, 0.14, 0.043, 0.036, 0.028, 0.021, 0.0166, 0.0072, 0.0041, 0.0048,
  0.0047, 0.0017, 0.0032, 0.0019, 0.0026, 0.0022, 0.0017, 0.0015, 0.0012, 0.0013,
  0.0011, 0.00092, 0.0008, 0.00065, 0.0004, 0.00045, 0.00035, 0.00028, 0.0003, 0.00026,
  0.00024, 0.0002, 0.00015, 0.00005, 0.00012, 0.00004, 0.0000008, 0.00005, 0.0000008, 0.00003,
  0.00004, 0.00001, 0.00005, 0.000004, 0.00003, 0.000012, 0.00004, 0.000003, 0.00002, 0.000008,
  0.000025, 0.000005, 0.00002, 0.000001, 0.000015, 0.000006, 0.00002, 0.000004, 0.000012, 0.000002,
  0.000015, 0.000005, 0.00001, 0.000003, 0.000012, 0.0000008, 0.00001,
];
const p4x_dsCpre = [
  0.00002, 0.000004, 0.000035, 0.00001, 0.000002, 0.00003, 0.000008, 0.00002, 0.0000008, 0.000025,
  0.000008, 0.00002, 0.000003, 0.000018, 0.000008, 0.000002, 0.00002, 0.000006, 0.000015, 0.000004,
  0.000015, 0.0000008, 0.000015, 0.000005, 0.000012, 0.000003, 0.00001,
];
const p4_dsDpre = [
  0.0004, 0.00061, 0.00095, 0.00087, 0.00075, 0.00026, 0.00024, 0.0004, 0.0004, 0.00042,
  0.00038, 0.0004, 0.00045, 0.0003, 0.00028, 0.00035, 0.00025, 0.00033, 0.00028, 0.00023,
  0.00026, 0.00022, 0.00024, 0.00021, 0.00022, 0.0002, 0.00021, 0.00019, 0.0002, 0.00018,
  0.00018, 0.00017, 0.00018, 0.000165, 0.00017, 0.00016, 0.000165, 0.00016, 0.000162, 0.000158,
  0.00016, 0.000155, 0.000158, 0.00016, 0.000155, 0.000158, 0.00016, 0.000155, 0.000158, 0.00016,
  0.000155, 0.000158, 0.00016, 0.000155, 0.000158, 0.00016, 0.000158, 0.00016, 0.000158, 0.00016,
  0.000158, 0.00016, 0.000162, 0.00016, 0.000162, 0.00016, 0.000162,
];
const p4_hmCpre = [
  0.072, 0.14, 0.042, 0.035, 0.027, 0.021, 0.017, 0.0075, 0.0038, 0.005,
  0.0045, 0.0018, 0.0033, 0.002, 0.0027, 0.0021, 0.0016, 0.0014, 0.0012, 0.0012,
  0.001, 0.0009, 0.00075, 0.0006, 0.00042, 0.00043, 0.00033, 0.0003, 0.00028, 0.00025,
  0.00022, 0.00018, 0.00012, 0.00007, 0.00009, 0.00003, 0.00006, 0.000006, 0.00005, 0.00002,
  0.00006, 0.000008, 0.00003, 0.000015, 0.000002, 0.00004, 0.00001, 0.000025, 0.000001, 0.00002,
  0.000008, 0.00003, 0.000003, 0.00002, 0.000008, 0.000025, 0.000001, 0.000015, 0.000006, 0.00002,
  0.000003, 0.000015, 0.000006, 0.00002, 0.000002, 0.000012, 0.000006,
];
const p4x_hmCpre = [
  0.00003, 0.000012, 0.000003, 0.00003, 0.00001, 0.000005, 0.00003, 0.000004, 0.00002, 0.00001,
  0.000025, 0.000004, 0.00002, 0.000008, 0.000003, 0.00002, 0.000008, 0.000015, 0.000002, 0.00002,
  0.000008, 0.00002, 0.000003, 0.000015, 0.000008, 0.000002, 0.000012,
];
const p4_hmDpre = [
  0.003, 0.0037, 0.0019, 0.001, 0.00075, 0.00046, 0.00045, 0.00032, 0.00035, 0.00033,
  0.0003, 0.00038, 0.0003, 0.00027, 0.00035, 0.0003, 0.00032, 0.00025, 0.00028, 0.00026,
  0.00027, 0.00024, 0.00026, 0.00023, 0.00024, 0.00022, 0.00023, 0.0002, 0.00021, 0.0002,
  0.0002, 0.00019, 0.00019, 0.00018, 0.00018, 0.00017, 0.00018, 0.00017, 0.00017, 0.000168,
  0.00017, 0.000168, 0.00017, 0.000168, 0.00017, 0.000168, 0.00017, 0.000172, 0.00017, 0.000168,
  0.00017, 0.000172, 0.00017, 0.000168, 0.00017, 0.000172, 0.00017, 0.000168, 0.00017, 0.000172,
  0.00017, 0.000168, 0.00017, 0.000172, 0.00017, 0.000168, 0.00017,
];

// ---------------- 217 GHz (left) ----------------
const p5_dsC15 = [
  1.1, 0.9, 0.17, 0.33, 0.12, 0.27, 0.1, 0.24, 0.07, 0.075,
  0.07, 0.045, 0.048, 0.031, 0.041, 0.023, 0.027, 0.019, 0.028, 0.02,
  0.017, 0.013, 0.011, 0.009, 0.0075, 0.006, 0.0048, 0.0041, 0.0033, 0.0026,
  0.0019, 0.0018, 0.0014, 0.0013, 0.001, 0.0009, 0.00078, 0.0007, 0.00055, 0.00048,
  0.00042, 0.00035, 0.00027, 0.00024, 0.00015, 0.00012, 0.0001, 0.00005, 0.00012, 0.00014,
  0.00019, 0.00027, 0.00039, 0.00046, 0.00049, 0.00037, 0.00019, 0.00004, 0.000015, 0.00007,
  0.00017, 0.0002, 0.00015, 0.00006, 0.00001, 0.000008, 0.00009,
];
const p5x_dsC15 = [
  0.0004, 0.00033, 0.00032, 0.0002, 0.00018, 0.00009, 0.00013, 0.00008, 0.00007, 0.00011,
  0.00016, 0.00022, 0.00034, 0.00043, 0.00048, 0.00044, 0.00028, 0.00012, 0.00004, 0.00005,
  0.00013, 0.0002, 0.00019, 0.00012, 0.00004, 0.00001, 0.00004,
];
const p5_dsD15 = [
  0.0058, 0.0072, 0.0155, 0.0042, 0.0052, 0.0018, 0.0016, 0.0023, 0.0012, 0.0009,
  0.0012, 0.0008, 0.0007, 0.00085, 0.0006, 0.0007, 0.00055, 0.0006, 0.0005, 0.00065,
  0.00055, 0.0005, 0.00045, 0.0005, 0.00042, 0.00045, 0.0004, 0.00042, 0.00038, 0.0004,
  0.00037, 0.00038, 0.00035, 0.00036, 0.00034, 0.00035, 0.00033, 0.00034, 0.00033, 0.00034,
  0.00033, 0.00034, 0.00033, 0.00034, 0.00033, 0.00034, 0.00033, 0.00034, 0.00033, 0.00034,
  0.00033, 0.00034, 0.00033, 0.00034, 0.00033, 0.00034, 0.00033, 0.00034, 0.00033, 0.00034,
  0.00033, 0.00034, 0.00033, 0.00034, 0.00033, 0.00034, 0.00034,
];
const p5_hmC15 = [
  1.1, 0.85, 0.18, 0.32, 0.12, 0.26, 0.1, 0.24, 0.067, 0.073,
  0.068, 0.046, 0.046, 0.032, 0.04, 0.024, 0.026, 0.02, 0.027, 0.019,
  0.017, 0.012, 0.012, 0.0088, 0.0073, 0.0063, 0.0046, 0.0043, 0.0034, 0.0025,
  0.002, 0.0017, 0.0015, 0.0012, 0.0011, 0.00088, 0.0008, 0.00069, 0.00057, 0.00049,
  0.00043, 0.00034, 0.00029, 0.00023, 0.00017, 0.0001, 0.00013, 0.00004, 0.00011, 0.00015,
  0.00021, 0.00028, 0.00038, 0.00045, 0.00047, 0.00039, 0.00017, 0.00004, 0.00002, 0.00008,
  0.00016, 0.00019, 0.00017, 0.00007, 0.000012, 0.000004, 0.00008,
];
const p5x_hmC15 = [
  0.00042, 0.00037, 0.00028, 0.00024, 0.00015, 0.00012, 0.0001, 0.00006, 0.0001, 0.00009,
  0.00017, 0.00024, 0.00033, 0.00044, 0.00047, 0.00042, 0.00026, 0.0001, 0.00003, 0.00006,
  0.00012, 0.00019, 0.0002, 0.00011, 0.00003, 0.000006, 0.00005,
];
const p5_hmD15 = [
  0.0155, 0.0099, 0.0079, 0.0058, 0.0035, 0.0025, 0.0028, 0.00167, 0.0012, 0.00081,
  0.0023, 0.00089, 0.0019, 0.0009, 0.0016, 0.0011, 0.0013, 0.0009, 0.0007, 0.0008,
  0.0007, 0.00065, 0.0006, 0.00055, 0.0005, 0.00048, 0.00045, 0.00043, 0.00042, 0.0004,
  0.0004, 0.00038, 0.00039, 0.00037, 0.00038, 0.00036, 0.00037, 0.00036, 0.00037, 0.00036,
  0.00037, 0.00036, 0.00037, 0.00036, 0.00037, 0.00036, 0.00037, 0.00036, 0.00037, 0.00036,
  0.00037, 0.00036, 0.00037, 0.00036, 0.00037, 0.00036, 0.00037, 0.00036, 0.00037, 0.00036,
  0.00037, 0.00036, 0.00037, 0.00036, 0.00037, 0.00036, 0.00037,
];
const p5_dsCpre = [
  2.3, 0.3, 0.33, 0.32, 0.13, 0.26, 0.095, 0.25, 0.063, 0.07,
  0.068, 0.046, 0.046, 0.032, 0.04, 0.024, 0.026, 0.019, 0.027, 0.02,
  0.017, 0.013, 0.012, 0.0087, 0.0072, 0.0064, 0.0047, 0.0042, 0.0034, 0.0025,
  0.002, 0.0018, 0.0015, 0.0013, 0.0011, 0.0009, 0.00081, 0.0007, 0.00058, 0.0005,
  0.00043, 0.00036, 0.0003, 0.00026, 0.0002, 0.00013, 0.00011, 0.00006, 0.00009, 0.00013,
  0.00018, 0.00028, 0.00038, 0.00045, 0.00048, 0.00038, 0.0002, 0.00006, 0.000025, 0.00008,
  0.00016, 0.0002, 0.00017, 0.00008, 0.000015, 0.000006, 0.00008,
];
const p5x_dsCpre = [
  0.00045, 0.00035, 0.0003, 0.00023, 0.00017, 0.00011, 0.00012, 0.00007, 0.00008, 0.0001,
  0.00015, 0.00023, 0.00035, 0.00042, 0.00049, 0.00043, 0.00029, 0.00011, 0.00004, 0.00006,
  0.00013, 0.00018, 0.0002, 0.00012, 0.00004, 0.000015, 0.00004,
];
const p5_dsDpre = [
  0.0038, 0.0017, 0.0012, 0.0013, 0.0014, 0.0012, 0.0018, 0.0013, 0.00066, 0.0005,
  0.00035, 0.00028, 0.0006, 0.0007, 0.0003, 0.0006, 0.00048, 0.00055, 0.00045, 0.0005,
  0.00045, 0.00042, 0.00044, 0.0004, 0.00041, 0.00038, 0.0004, 0.00037, 0.00038, 0.00036,
  0.00036, 0.00035, 0.00036, 0.00034, 0.00035, 0.00034, 0.00035, 0.00033, 0.00034, 0.00033,
  0.00034, 0.00033, 0.00034, 0.00033, 0.00034, 0.00033, 0.00034, 0.00033, 0.00034, 0.00033,
  0.00034, 0.00033, 0.00034, 0.00033, 0.00034, 0.00033, 0.00034, 0.00033, 0.00034, 0.00033,
  0.00034, 0.00033, 0.00034, 0.00033, 0.00034, 0.00033, 0.00034,
];
const p5_hmCpre = [
  2.3, 0.31, 0.33, 0.31, 0.13, 0.25, 0.1, 0.24, 0.065, 0.072,
  0.065, 0.047, 0.044, 0.033, 0.038, 0.025, 0.025, 0.02, 0.026, 0.019,
  0.018, 0.012, 0.012, 0.009, 0.007, 0.0062, 0.0049, 0.004, 0.0035, 0.0026,
  0.0021, 0.0017, 0.0016, 0.0012, 0.0011, 0.00095, 0.0008, 0.00068, 0.0006, 0.00048,
  0.00045, 0.00034, 0.00029, 0.00022, 0.00019, 0.00014, 0.00012, 0.00008, 0.0001, 0.00015,
  0.0002, 0.00029, 0.00037, 0.00044, 0.00047, 0.0004, 0.00018, 0.00005, 0.00002, 0.00009,
  0.00015, 0.0002, 0.00016, 0.00007, 0.00002, 0.0000005, 0.00007,
];
const p5x_hmCpre = [
  0.00043, 0.00036, 0.00031, 0.00021, 0.00016, 0.0001, 0.00011, 0.00005, 0.00009, 0.00012,
  0.00016, 0.00021, 0.00036, 0.00043, 0.00048, 0.00043, 0.00027, 0.00009, 0.00003, 0.00005,
  0.00014, 0.00019, 0.00018, 0.0001, 0.000025, 0.000003, 0.00003,
];
const p5_hmDpre = [
  0.00072, 0.0037, 0.0014, 0.0014, 0.00095, 0.0017, 0.001, 0.0011, 0.0013, 0.0007,
  0.00065, 0.0007, 0.0006, 0.00075, 0.0006, 0.00065, 0.00055, 0.0006, 0.0005, 0.00055,
  0.0005, 0.00048, 0.00045, 0.00047, 0.00042, 0.00044, 0.0004, 0.00042, 0.00039, 0.0004,
  0.00038, 0.00039, 0.00037, 0.00038, 0.00036, 0.00037, 0.00036, 0.00037, 0.00036, 0.00036,
  0.00036, 0.00037, 0.00036, 0.00036, 0.00037, 0.00036, 0.00036, 0.00037, 0.00036, 0.00036,
  0.00036, 0.00037, 0.00036, 0.00036, 0.00037, 0.00036, 0.00036, 0.00037, 0.00036, 0.00036,
  0.00037, 0.00036, 0.00036, 0.00037, 0.00036, 0.00037, 0.00036,
];

// ---------------- 217 GHz BB ----------------
const p6_dsC15 = [
  3.0, 0.96, 0.27, 0.16, 0.22, 0.12, 0.13, 0.13, 0.063, 0.058,
  0.05, 0.034, 0.025, 0.028, 0.024, 0.019, 0.015, 0.016, 0.012, 0.013,
  0.011, 0.0075, 0.0063, 0.0054, 0.0038, 0.0034, 0.0022, 0.0021, 0.0016, 0.0014,
  0.0011, 0.001, 0.00085, 0.00075, 0.00058, 0.0005, 0.00044, 0.00039, 0.00034, 0.00024,
  0.00018, 0.00009, 0.00013, 0.00006, 0.0001, 0.00003, 0.00008, 0.000015, 0.00005, 0.000025,
  0.00005, 0.00002, 0.00004, 0.00001, 0.00003, 0.000015, 0.00003, 0.000006, 0.000025, 0.00001,
  0.000025, 0.000008, 0.00002, 0.00001, 0.000025, 0.000006, 0.00002,
];
const p6x_dsC15 = [
  0.0002, 0.00007, 0.00014, 0.00005, 0.00008, 0.00002, 0.00007, 0.00003, 0.00006, 0.000012,
  0.00004, 0.00001, 0.00005, 0.000012, 0.00004, 0.000008, 0.00003, 0.00001, 0.00003, 0.000006,
  0.00003, 0.00001, 0.000025, 0.000004, 0.00002, 0.000008, 0.000025,
];
const p6_dsD15 = [
  0.0079, 0.018, 0.0067, 0.0093, 0.0035, 0.0025, 0.0031, 0.001, 0.0043, 0.0009,
  0.0025, 0.0009, 0.0012, 0.00075, 0.0009, 0.0007, 0.0008, 0.00055, 0.00065, 0.0006,
  0.00055, 0.0006, 0.0005, 0.00055, 0.00045, 0.00048, 0.00042, 0.00044, 0.0004, 0.00038,
  0.00037, 0.00038, 0.00035, 0.00036, 0.00034, 0.00035, 0.00033, 0.00034, 0.00033, 0.00032,
  0.00033, 0.00032, 0.00033, 0.00032, 0.00033, 0.00032, 0.00033, 0.00032, 0.00033, 0.00032,
  0.00033, 0.00032, 0.00033, 0.00032, 0.00033, 0.00032, 0.00033, 0.00032, 0.00033, 0.00032,
  0.00033, 0.00032, 0.00033, 0.00032, 0.00033, 0.00032, 0.00033,
];
const p6_hmC15 = [
  2.9, 1.0, 0.28, 0.18, 0.22, 0.13, 0.13, 0.12, 0.06, 0.056,
  0.04, 0.034, 0.024, 0.027, 0.025, 0.018, 0.016, 0.015, 0.012, 0.012,
  0.011, 0.0072, 0.0064, 0.0052, 0.004, 0.0033, 0.0023, 0.002, 0.0016, 0.0014,
  0.0011, 0.00098, 0.00088, 0.00072, 0.0006, 0.00048, 0.00045, 0.0004, 0.00034, 0.00023,
  0.00016, 0.00012, 0.00005, 0.00011, 0.00004, 0.00009, 0.000025, 0.00006, 0.000004, 0.00004,
  0.00002, 0.00005, 0.000012, 0.00004, 0.000004, 0.00003, 0.000012, 0.000035, 0.000008, 0.000025,
  0.000006, 0.00002, 0.000004, 0.000018, 0.000005, 0.000015, 0.000008,
];
const p6x_hmC15 = [
  0.00014, 0.00015, 0.00007, 0.00012, 0.00003, 0.00008, 0.000015, 0.00005, 0.000015, 0.00005,
  0.000008, 0.00004, 0.000008, 0.00003, 0.000015, 0.00004, 0.000005, 0.00003, 0.000012, 0.00003,
  0.000008, 0.00003, 0.000008, 0.000025, 0.000006, 0.00002, 0.000004,
];
const p6_hmD15 = [
  0.014, 0.014, 0.0079, 0.0035, 0.0028, 0.004, 0.0011, 0.0021, 0.0012, 0.0012,
  0.0009, 0.002, 0.0008, 0.0011, 0.0009, 0.0007, 0.0006, 0.0008, 0.00055, 0.0006,
  0.00055, 0.0005, 0.00052, 0.00046, 0.00048, 0.00042, 0.00044, 0.0004, 0.00041, 0.00038,
  0.00038, 0.00036, 0.00037, 0.00035, 0.00036, 0.00035, 0.00036, 0.00034, 0.00035, 0.00034,
  0.00035, 0.00034, 0.00035, 0.00034, 0.00035, 0.00034, 0.00035, 0.00034, 0.00035, 0.00034,
  0.00035, 0.00034, 0.00035, 0.00034, 0.00035, 0.00034, 0.00035, 0.00034, 0.00035, 0.00034,
  0.00035, 0.00034, 0.00035, 0.00034, 0.00035, 0.00034, 0.00035,
];
const p6_dsCpre = [
  0.37, 1.17, 0.31, 0.21, 0.23, 0.14, 0.13, 0.12, 0.057, 0.055,
  0.038, 0.035, 0.022, 0.027, 0.025, 0.018, 0.016, 0.015, 0.012, 0.013,
  0.011, 0.007, 0.0065, 0.0053, 0.0039, 0.0033, 0.0023, 0.002, 0.0017, 0.0014,
  0.0011, 0.001, 0.0009, 0.00072, 0.0006, 0.00047, 0.00045, 0.0004, 0.00035, 0.00025,
  0.0002, 0.00013, 0.00008, 0.00011, 0.00004, 0.00007, 0.00002, 0.00006, 0.00003, 0.00005,
  0.000015, 0.00004, 0.000025, 0.00005, 0.000008, 0.00003, 0.000015, 0.00004, 0.000005, 0.00003,
  0.00001, 0.000025, 0.000003, 0.00002, 0.000008, 0.00002, 0.00001,
];
const p6x_dsCpre = [
  0.00016, 0.0001, 0.00012, 0.00006, 0.00009, 0.00003, 0.00005, 0.000012, 0.00005, 0.00002,
  0.00005, 0.000008, 0.00004, 0.000015, 0.00004, 0.00001, 0.00003, 0.000008, 0.00003, 0.00001,
  0.00003, 0.000005, 0.00002, 0.000008, 0.00002, 0.000004, 0.00002,
];
const p6_dsDpre = [
  0.0015, 0.0033, 0.0023, 0.0012, 0.0015, 0.00089, 0.00047, 0.0009, 0.00043, 0.0008,
  0.0009, 0.00045, 0.0006, 0.00048, 0.0006, 0.0004, 0.00055, 0.00045, 0.0004, 0.00048,
  0.00042, 0.0004, 0.00043, 0.00038, 0.0004, 0.00036, 0.00038, 0.00035, 0.00036, 0.00034,
  0.00035, 0.00033, 0.00034, 0.00032, 0.00033, 0.00032, 0.00033, 0.00031, 0.00032, 0.00031,
  0.00032, 0.00031, 0.00032, 0.00031, 0.00032, 0.00031, 0.00032, 0.00031, 0.00032, 0.00031,
  0.00032, 0.00031, 0.00032, 0.00031, 0.00032, 0.00031, 0.00032, 0.00031, 0.00032, 0.00031,
  0.00032, 0.00031, 0.00032, 0.00031, 0.00032, 0.00031, 0.00032,
];
const p6_hmCpre = [
  0.37, 1.15, 0.3, 0.21, 0.22, 0.14, 0.13, 0.12, 0.056, 0.054,
  0.037, 0.034, 0.023, 0.026, 0.024, 0.019, 0.016, 0.014, 0.012, 0.012,
  0.01, 0.0072, 0.0062, 0.0055, 0.004, 0.0032, 0.0024, 0.0019, 0.0017, 0.0013,
  0.0011, 0.00095, 0.00085, 0.0007, 0.00058, 0.00048, 0.00043, 0.00038, 0.00033, 0.00022,
  0.00015, 0.0001, 0.00012, 0.00005, 0.00009, 0.000003, 0.00005, 0.00002, 0.00006, 0.000015,
  0.00004, 0.000005, 0.00003, 0.000015, 0.00004, 0.0000015, 0.00003, 0.00001, 0.00002, 0.000004,
  0.00002, 0.000008, 0.000015, 0.000003, 0.000012, 0.000004, 0.000015,
];
const p6x_hmCpre = [
  0.00017, 0.00008, 0.00013, 0.00004, 0.0001, 0.00002, 0.00006, 0.000005, 0.00004, 0.00002,
  0.00003, 0.00001, 0.00004, 0.000005, 0.00003, 0.00001, 0.000035, 0.000004, 0.00002, 0.00001,
  0.000025, 0.000003, 0.000025, 0.000006, 0.00002, 0.000002, 0.000015,
];
const p6_hmDpre = [
  0.00095, 0.0015, 0.0033, 0.00066, 0.0012, 0.0015, 0.0011, 0.00089, 0.00085, 0.0007,
  0.00065, 0.0006, 0.00068, 0.00055, 0.0005, 0.00058, 0.00045, 0.0005, 0.00052, 0.00045,
  0.00048, 0.00042, 0.00046, 0.0004, 0.00043, 0.00039, 0.00041, 0.00037, 0.00039, 0.00036,
  0.00037, 0.00035, 0.00036, 0.00034, 0.00035, 0.00034, 0.00035, 0.00034, 0.00034, 0.00035,
  0.00034, 0.00035, 0.00034, 0.00035, 0.00034, 0.00035, 0.00034, 0.00035, 0.00034, 0.00035,
  0.00034, 0.00035, 0.00034, 0.00035, 0.00034, 0.00035, 0.00034, 0.00035, 0.00034, 0.00035,
  0.00034, 0.00035, 0.00034, 0.00035, 0.00034, 0.00035, 0.00034,
];

// ---------------- 353 GHz EE ----------------
const p7_dsC15 = [
  140, 25, 12, 18, 8, 14, 5, 13, 4.3, 4.2,
  3.9, 3.1, 2.7, 2.7, 2.3, 1.9, 1.75, 1.45, 1.35, 1.25,
  1.1, 0.82, 0.76, 0.62, 0.56, 0.44, 0.41, 0.31, 0.31, 0.24,
  0.22, 0.17, 0.155, 0.12, 0.115, 0.088, 0.078, 0.058, 0.054, 0.04,
  0.036, 0.029, 0.023, 0.021, 0.015, 0.014, 0.01, 0.0085, 0.0055, 0.0048,
  0.0032, 0.0027, 0.0018, 0.0016, 0.0011, 0.001, 0.0007, 0.0009, 0.0004, 0.0007,
  0.0003, 0.0006, 0.00015, 0.0005, 0.0001, 0.0004, 0.0002,
];
const p7x_dsC15 = [
  0.04, 0.03, 0.028, 0.022, 0.018, 0.016, 0.011, 0.01, 0.006, 0.0055,
  0.0035, 0.0032, 0.0019, 0.0021, 0.0011, 0.0014, 0.0006, 0.001, 0.0004, 0.0009,
  0.0002, 0.0008, 0.0001, 0.0007, 0.00015, 0.0006, 0.0001,
];
const p7_dsD15 = [
  12, 1.0, 6.0, 0.45, 0.9, 0.4, 0.85, 0.3, 0.33, 0.25,
  0.3, 0.18, 0.22, 0.15, 0.2, 0.12, 0.14, 0.09, 0.12, 0.08,
  0.1, 0.07, 0.08, 0.05, 0.06, 0.04, 0.045, 0.03, 0.035, 0.022,
  0.025, 0.016, 0.018, 0.013, 0.014, 0.011, 0.012, 0.0095, 0.01, 0.0085,
  0.009, 0.008, 0.0085, 0.0078, 0.008, 0.0075, 0.0077, 0.0073, 0.0075, 0.0072,
  0.0074, 0.0071, 0.0073, 0.007, 0.0072, 0.0071, 0.0073, 0.007, 0.0072, 0.0071,
  0.0072, 0.007, 0.0072, 0.0071, 0.0073, 0.0071, 0.0072,
];
const p7_hmC15 = [
  135, 27, 20, 17, 8.2, 13.5, 5.1, 12.5, 4.1, 4.1,
  3.8, 3.2, 2.6, 2.8, 2.2, 2.0, 1.7, 1.5, 1.3, 1.25,
  1.08, 0.86, 0.74, 0.64, 0.54, 0.46, 0.39, 0.33, 0.3, 0.25,
  0.21, 0.18, 0.15, 0.125, 0.11, 0.092, 0.074, 0.062, 0.051, 0.043,
  0.034, 0.03, 0.024, 0.02, 0.016, 0.013, 0.0105, 0.0078, 0.0058, 0.0044,
  0.0036, 0.0024, 0.0021, 0.0014, 0.0012, 0.0008, 0.0011, 0.0005, 0.0009, 0.0002,
  0.0008, 0.00015, 0.0006, 0.0001, 0.0005, 0.00006, 0.0004,
];
const p7x_hmC15 = [
  0.036, 0.034, 0.025, 0.023, 0.017, 0.015, 0.012, 0.0095, 0.0068, 0.005,
  0.0038, 0.0028, 0.0023, 0.0017, 0.0015, 0.0011, 0.0009, 0.0007, 0.001, 0.0004,
  0.0009, 0.0003, 0.0008, 0.0002, 0.0006, 0.0002, 0.0005,
];
const p7_hmD15 = [
  0.046, 0.064, 0.045, 0.026, 0.03, 0.038, 0.032, 0.023, 0.019, 0.017,
  0.018, 0.021, 0.013, 0.02, 0.016, 0.022, 0.012, 0.017, 0.013, 0.015,
  0.011, 0.014, 0.012, 0.0095, 0.013, 0.011, 0.01, 0.0095, 0.01, 0.009,
  0.0092, 0.0088, 0.009, 0.0085, 0.0082, 0.008, 0.0078, 0.0075, 0.0074, 0.0072,
  0.0071, 0.0069, 0.007, 0.0068, 0.0067, 0.0066, 0.0067, 0.0065, 0.0066, 0.0065,
  0.0066, 0.0064, 0.0065, 0.0064, 0.0065, 0.0063, 0.0064, 0.0063, 0.0064, 0.0063,
  0.0064, 0.0063, 0.0064, 0.0062, 0.0063, 0.0062, 0.0063,
];
const p7_dsCpre = [
  130, 30, 20, 18, 8, 14, 5, 13, 4.2, 4.0,
  3.8, 3.2, 2.6, 2.8, 2.2, 2.0, 1.7, 1.5, 1.3, 1.3,
  1.1, 0.85, 0.75, 0.65, 0.55, 0.45, 0.4, 0.32, 0.3, 0.25,
  0.21, 0.18, 0.15, 0.13, 0.11, 0.09, 0.075, 0.06, 0.052, 0.042,
  0.035, 0.03, 0.024, 0.02, 0.016, 0.013, 0.011, 0.008, 0.006, 0.0045,
  0.0035, 0.0025, 0.002, 0.0015, 0.0013, 0.0009, 0.001, 0.0006, 0.0008, 0.0003,
  0.0007, 0.0002, 0.0005, 0.00012, 0.0004, 0.00008, 0.0003,
];
const p7x_dsCpre = [
  0.038, 0.032, 0.026, 0.022, 0.018, 0.014, 0.012, 0.0095, 0.0065, 0.0052,
  0.0037, 0.003, 0.0021, 0.0018, 0.0012, 0.0012, 0.0007, 0.0009, 0.0005, 0.0007,
  0.0003, 0.0006, 0.0002, 0.0005, 0.0001, 0.0004, 0.00008,
];
const p7_dsDpre = [
  0.088, 0.14, 0.034, 0.068, 0.056, 0.06, 0.05, 0.03, 0.02, 0.017,
  0.027, 0.022, 0.016, 0.025, 0.018, 0.014, 0.02, 0.015, 0.012, 0.016,
  0.012, 0.013, 0.011, 0.012, 0.01, 0.011, 0.0095, 0.01, 0.009, 0.0092,
  0.009, 0.0088, 0.0086, 0.0083, 0.0082, 0.008, 0.0078, 0.0077, 0.0076, 0.0075,
  0.0075, 0.0074, 0.0074, 0.0073, 0.0073, 0.0072, 0.0073, 0.0072, 0.0072, 0.0071,
  0.0072, 0.0071, 0.0072, 0.0071, 0.0071, 0.0072, 0.0071, 0.0072, 0.0071, 0.0072,
  0.0071, 0.0072, 0.0071, 0.0072, 0.0071, 0.0072, 0.0071,
];
const p7_hmCpre = [
  130, 28, 19, 17, 8.5, 13, 5.2, 12, 4.3, 4.1,
  3.7, 3.3, 2.5, 2.9, 2.1, 2.0, 1.8, 1.4, 1.35, 1.2,
  1.05, 0.88, 0.72, 0.66, 0.53, 0.47, 0.38, 0.34, 0.29, 0.26,
  0.2, 0.19, 0.14, 0.13, 0.1, 0.095, 0.07, 0.065, 0.05, 0.04,
  0.036, 0.028, 0.025, 0.019, 0.017, 0.012, 0.01, 0.0075, 0.0055, 0.004,
  0.0033, 0.0022, 0.0021, 0.0013, 0.0011, 0.0006, 0.0009, 0.0004, 0.0007, 0.00015,
  0.0006, 0.00008, 0.0004, 0.0002, 0.0003, 0.00005, 0.0002,
];
const p7x_hmCpre = [
  0.037, 0.031, 0.027, 0.021, 0.019, 0.014, 0.0115, 0.009, 0.0062, 0.0048,
  0.0034, 0.0029, 0.002, 0.0018, 0.0011, 0.0013, 0.0005, 0.0008, 0.0003, 0.0008,
  0.00015, 0.0006, 0.0001, 0.0005, 0.0002, 0.0003, 0.0001,
];
const p7_hmDpre = [
  0.06, 0.038, 0.035, 0.03, 0.028, 0.026, 0.025, 0.024, 0.014, 0.02,
  0.016, 0.02, 0.012, 0.022, 0.014, 0.018, 0.011, 0.016, 0.012, 0.014,
  0.011, 0.013, 0.01, 0.012, 0.009, 0.011, 0.0095, 0.01, 0.009, 0.0088,
  0.0088, 0.0085, 0.0083, 0.008, 0.0078, 0.0076, 0.0074, 0.0072, 0.0071, 0.007,
  0.0069, 0.0068, 0.0067, 0.0066, 0.0066, 0.0065, 0.0065, 0.0064, 0.0065, 0.0064,
  0.0064, 0.0063, 0.0064, 0.0063, 0.0063, 0.0062, 0.0063, 0.0062, 0.0063, 0.0062,
  0.0063, 0.0062, 0.0063, 0.0062, 0.0062, 0.0063, 0.0062,
];

// ---------------- 353 GHz BB ----------------
const p8_dsC15 = [
  25, 45, 18, 16, 13, 12.5, 10, 9.5, 5.3, 4.6,
  3.9, 3.4, 2.7, 2.5, 2.0, 1.75, 1.45, 1.3, 0.98, 0.97,
  0.78, 0.64, 0.53, 0.46, 0.37, 0.33, 0.25, 0.23, 0.18, 0.165,
  0.125, 0.115, 0.088, 0.078, 0.06, 0.052, 0.04, 0.035, 0.027, 0.023,
  0.017, 0.016, 0.0115, 0.01, 0.0072, 0.0063, 0.0046, 0.004, 0.0028, 0.0026,
  0.0018, 0.0018, 0.0012, 0.0014, 0.0007, 0.0011, 0.0005, 0.0009, 0.0003, 0.0007,
  0.0002, 0.0006, 0.00015, 0.0005, 0.0002, 0.0004, 0.0003,
];
const p8x_dsC15 = [
  0.019, 0.015, 0.013, 0.011, 0.0085, 0.007, 0.0055, 0.0042, 0.0034, 0.0026,
  0.0021, 0.0016, 0.0015, 0.001, 0.0012, 0.0007, 0.001, 0.0004, 0.0008, 0.0002,
  0.0007, 0.00015, 0.0006, 0.0001, 0.0005, 0.0001, 0.0004,
];
const p8_dsD15 = [
  2.0, 12, 0.16, 1.4, 0.45, 0.65, 0.25, 0.5, 0.2, 0.15,
  0.18, 0.1, 0.12, 0.08, 0.1, 0.065, 0.075, 0.05, 0.06, 0.045,
  0.05, 0.035, 0.04, 0.028, 0.03, 0.022, 0.024, 0.018, 0.017, 0.014,
  0.014, 0.012, 0.012, 0.01, 0.0105, 0.009, 0.0092, 0.0082, 0.0085, 0.0078,
  0.0078, 0.0073, 0.0074, 0.007, 0.0071, 0.0068, 0.0069, 0.0067, 0.0068, 0.0066,
  0.0067, 0.0065, 0.0066, 0.0065, 0.0066, 0.0064, 0.0066, 0.0065, 0.0066, 0.0064,
  0.0066, 0.0065, 0.0066, 0.0064, 0.0066, 0.0065, 0.0066,
];
const p8_hmC15 = [
  28, 62, 19, 15, 14, 12, 11, 9, 5.4, 4.4,
  3.8, 3.5, 2.8, 2.4, 2.1, 1.7, 1.5, 1.25, 1.0, 0.95,
  0.8, 0.62, 0.55, 0.45, 0.38, 0.32, 0.26, 0.22, 0.19, 0.16,
  0.13, 0.11, 0.09, 0.075, 0.062, 0.05, 0.042, 0.034, 0.028, 0.022,
  0.018, 0.015, 0.012, 0.0095, 0.0075, 0.006, 0.0048, 0.0038, 0.003, 0.0024,
  0.0022, 0.0016, 0.0016, 0.0011, 0.001, 0.0008, 0.0008, 0.0004, 0.0006, 0.0002,
  0.0005, 0.0001, 0.0004, 0.00008, 0.0003, 0.0001, 0.00025,
];
const p8x_hmC15 = [
  0.02, 0.016, 0.0135, 0.0105, 0.0083, 0.0068, 0.0052, 0.0044, 0.0032, 0.0028,
  0.0019, 0.0018, 0.0012, 0.0013, 0.0008, 0.0011, 0.0005, 0.0009, 0.0003, 0.0008,
  0.0002, 0.0007, 0.00012, 0.0006, 0.0001, 0.0005, 0.0001,
];
const p8_hmD15 = [
  0.055, 0.035, 0.023, 0.028, 0.03, 0.028, 0.014, 0.018, 0.02, 0.013,
  0.016, 0.011, 0.015, 0.012, 0.014, 0.01, 0.013, 0.0095, 0.012, 0.01,
  0.011, 0.0095, 0.01, 0.009, 0.0092, 0.0085, 0.0088, 0.0082, 0.0084, 0.008,
  0.008, 0.0078, 0.0077, 0.0075, 0.0074, 0.0072, 0.0071, 0.007, 0.0069, 0.0068,
  0.0067, 0.0066, 0.0065, 0.0064, 0.0064, 0.0063, 0.0063, 0.0062, 0.0062, 0.0062,
  0.0061, 0.0062, 0.0061, 0.0061, 0.0062, 0.0061, 0.0061, 0.0062, 0.0061, 0.0061,
  0.0061, 0.0062, 0.0061, 0.0061, 0.0062, 0.0061, 0.0061,
];
const p8_dsCpre = [
  30, 68, 18, 15, 14, 12, 11, 9, 5.5, 4.5,
  3.8, 3.5, 2.8, 2.4, 2.1, 1.7, 1.5, 1.25, 1.0, 0.95,
  0.8, 0.62, 0.55, 0.45, 0.38, 0.32, 0.26, 0.22, 0.19, 0.16,
  0.13, 0.11, 0.09, 0.075, 0.062, 0.05, 0.042, 0.034, 0.028, 0.022,
  0.018, 0.015, 0.012, 0.0095, 0.0075, 0.006, 0.0048, 0.0038, 0.003, 0.0024,
  0.002, 0.0017, 0.0014, 0.0013, 0.0008, 0.001, 0.0006, 0.0008, 0.0004, 0.0006,
  0.0003, 0.0005, 0.0002, 0.0004, 0.00008, 0.0003, 0.0002,
];
const p8x_dsCpre = [
  0.02, 0.0165, 0.013, 0.0105, 0.0086, 0.0066, 0.0054, 0.0043, 0.0033, 0.0027,
  0.002, 0.0017, 0.0013, 0.0012, 0.0009, 0.0009, 0.0006, 0.0007, 0.0003, 0.0006,
  0.00015, 0.0005, 0.0001, 0.0004, 0.00006, 0.0003, 0.0001,
];
const p8_dsDpre = [
  0.083, 0.068, 0.073, 0.08, 0.027, 0.056, 0.023, 0.03, 0.034, 0.018,
  0.025, 0.015, 0.02, 0.013, 0.018, 0.012, 0.015, 0.011, 0.013, 0.01,
  0.012, 0.0095, 0.011, 0.009, 0.0098, 0.0085, 0.009, 0.0082, 0.0085, 0.008,
  0.0081, 0.0078, 0.0078, 0.0076, 0.0075, 0.0073, 0.0073, 0.0071, 0.0071, 0.007,
  0.007, 0.0069, 0.0069, 0.0068, 0.0068, 0.0067, 0.0067, 0.0066, 0.0067, 0.0066,
  0.0066, 0.0066, 0.0065, 0.0066, 0.0065, 0.0066, 0.0065, 0.0066, 0.0065, 0.0066,
  0.0065, 0.0066, 0.0065, 0.0066, 0.0065, 0.0066, 0.0065,
];
const p8_hmCpre = [
  28, 70, 19, 15, 14, 12, 11, 9.2, 5.4, 4.5,
  3.7, 3.4, 2.9, 2.3, 2.2, 1.65, 1.55, 1.2, 1.05, 0.92,
  0.82, 0.6, 0.56, 0.44, 0.39, 0.31, 0.27, 0.21, 0.2, 0.15,
  0.135, 0.105, 0.092, 0.072, 0.064, 0.048, 0.043, 0.033, 0.029, 0.021,
  0.019, 0.014, 0.0125, 0.009, 0.0078, 0.0057, 0.005, 0.0036, 0.0031, 0.0022,
  0.0021, 0.0015, 0.0015, 0.001, 0.0009, 0.0007, 0.0007, 0.0005, 0.0005, 0.0003,
  0.0004, 0.0002, 0.0003, 0.0001, 0.0003, 0.00005, 0.0002,
];
const p8x_hmCpre = [
  0.021, 0.015, 0.014, 0.0098, 0.0088, 0.0065, 0.0056, 0.004, 0.0035, 0.0025,
  0.0022, 0.0015, 0.0014, 0.0009, 0.0011, 0.0006, 0.0008, 0.0003, 0.0007, 0.00015,
  0.0006, 0.0001, 0.0005, 0.00008, 0.0004, 0.00006, 0.0003,
];
const p8_hmDpre = [
  0.07, 0.06, 0.03, 0.014, 0.02, 0.021, 0.017, 0.02, 0.015, 0.013,
  0.016, 0.012, 0.013, 0.01, 0.014, 0.009, 0.012, 0.0095, 0.011, 0.0088,
  0.01, 0.009, 0.0095, 0.0085, 0.009, 0.0082, 0.0085, 0.008, 0.0082, 0.0078,
  0.0078, 0.0075, 0.0076, 0.0073, 0.0073, 0.0071, 0.007, 0.0069, 0.0068, 0.0067,
  0.0066, 0.0065, 0.0065, 0.0064, 0.0063, 0.0063, 0.0062, 0.0062, 0.0062, 0.0061,
  0.0062, 0.0061, 0.0061, 0.0062, 0.0061, 0.0061, 0.0062, 0.0061, 0.0061, 0.0062,
  0.0061, 0.0061, 0.0062, 0.0061, 0.0061, 0.0062, 0.0061,
];

// Series styling (legend order); `order`: lower = drawn on top
const SERIES = [
  { label: 'DetSet-cross', release: '2015 release', color: '#1E90FF', order: 1, width: 1.4 },
  { label: 'DetSet-diff', release: '2015 release', color: '#00F0F0', order: 2, width: 1.4 },
  { label: 'HalfMission-cross', release: '2015 release', color: '#FFA01E', order: 5, width: 1.3 },
  { label: 'HalfMission-diff', release: '2015 release', color: '#D2691E', order: 6, width: 1.2 },
  { label: 'DetSet-cross', release: 'pre-2016 data', color: '#0A960A', order: 3, width: 1.6 },
  { label: 'DetSet-diff', release: 'pre-2016 data', color: '#22D85A', order: 4, width: 1.4 },
  { label: 'HalfMission-cross', release: 'pre-2016 data', color: '#FF1010', order: 7, width: 1.4 },
  { label: 'HalfMission-diff', release: 'pre-2016 data', color: '#FF00FF', order: 8, width: 1.4 },
];

const PANELS = [
  { title: '100 GHz', spec: 'EE', col: 0, row: 0, yMinExp: -6, yMaxExp: 1,
    series: [p1_dsC15, p1_dsD15, p1_hmC15, p1_hmD15, p1_dsCpre, p1_dsDpre, p1_hmCpre, p1_hmDpre],
    extra: [p1x_dsC15, null, p1x_hmC15, null, p1x_dsCpre, null, p1x_hmCpre, null] },
  { title: '100 GHz', spec: 'BB', col: 1, row: 0, yMinExp: -6, yMaxExp: 1,
    series: [p2_dsC15, p2_dsD15, p2_hmC15, p2_hmD15, p2_dsCpre, p2_dsDpre, p2_hmCpre, p2_hmDpre],
    extra: [p2x_dsC15, null, p2x_hmC15, null, p2x_dsCpre, null, p2x_hmCpre, null] },
  { title: '143 GHz', spec: 'EE', col: 0, row: 1, yMinExp: -6, yMaxExp: 1,
    series: [p3_dsC15, p3_dsD15, p3_hmC15, p3_hmD15, p3_dsCpre, p3_dsDpre, p3_hmCpre, p3_hmDpre],
    extra: [p3x_dsC15, null, p3x_hmC15, null, p3x_dsCpre, null, p3x_hmCpre, null] },
  { title: '143 GHz', spec: 'BB', col: 1, row: 1, yMinExp: -6, yMaxExp: 1,
    series: [p4_dsC15, p4_dsD15, p4_hmC15, p4_hmD15, p4_dsCpre, p4_dsDpre, p4_hmCpre, p4_hmDpre],
    extra: [p4x_dsC15, null, p4x_hmC15, null, p4x_dsCpre, null, p4x_hmCpre, null] },
  { title: '217 GHz', spec: 'BB', col: 0, row: 2, yMinExp: -6, yMaxExp: 1,
    series: [p5_dsC15, p5_dsD15, p5_hmC15, p5_hmD15, p5_dsCpre, p5_dsDpre, p5_hmCpre, p5_hmDpre],
    extra: [p5x_dsC15, null, p5x_hmC15, null, p5x_dsCpre, null, p5x_hmCpre, null] },
  { title: '217 GHz', spec: 'BB', col: 1, row: 2, yMinExp: -6, yMaxExp: 1,
    series: [p6_dsC15, p6_dsD15, p6_hmC15, p6_hmD15, p6_dsCpre, p6_dsDpre, p6_hmCpre, p6_hmDpre],
    extra: [p6x_dsC15, null, p6x_hmC15, null, p6x_dsCpre, null, p6x_hmCpre, null] },
  { title: '353 GHz', spec: 'EE', col: 0, row: 3, yMinExp: -4, yMaxExp: 3,
    series: [p7_dsC15, p7_dsD15, p7_hmC15, p7_hmD15, p7_dsCpre, p7_dsDpre, p7_hmCpre, p7_hmDpre],
    extra: [p7x_dsC15, null, p7x_hmC15, null, p7x_dsCpre, null, p7x_hmCpre, null] },
  { title: '353 GHz', spec: 'BB', col: 1, row: 3, yMinExp: -4, yMaxExp: 3,
    series: [p8_dsC15, p8_dsD15, p8_hmC15, p8_hmD15, p8_dsCpre, p8_dsDpre, p8_hmCpre, p8_hmDpre],
    extra: [p8x_dsC15, null, p8x_hmC15, null, p8x_dsCpre, null, p8x_hmCpre, null] },
];

// Layout geometry (page pixels)
const PLOT_LEFT = [83, 713];
const PLOT_RIGHT = [713, 1343];
const PLOT_TOP0 = 6;
const PLOT_H = 419;
const X_MIN = 2;
const X_MAX = 1000;
const FONT = '"Liberation Sans", Arial, sans-serif';

const idlAxes = {
  id: 'idlAxes',
  afterDatasetsDraw(chart: any, _args: any, o: any) {
    const { ctx, chartArea: a, scales } = chart;
    const xs = scales.x;
    const ys = scales.y;
    ctx.save();
    ctx.strokeStyle = '#000';
    ctx.lineWidth = 1.2;
    ctx.beginPath();
    for (const d of [1, 10, 100, 1000]) {
      for (let m = 1; m <= 9; m++) {
        const v = m * d;
        if (v < X_MIN || v > X_MAX) continue;
        const px = Math.round(xs.getPixelForValue(v)) + 0.5;
        const len = m === 1 ? 9 : 5;
        ctx.moveTo(px, a.bottom);
        ctx.lineTo(px, a.bottom - len);
        ctx.moveTo(px, a.top);
        ctx.lineTo(px, a.top + len);
      }
    }
    for (let e = o.yMinExp; e < o.yMaxExp; e++) {
      for (let m = 1; m <= 9; m++) {
        const v = m * Math.pow(10, e);
        const py = Math.round(ys.getPixelForValue(v)) + 0.5;
        const len = m === 1 ? 9 : 5;
        ctx.moveTo(a.left, py);
        ctx.lineTo(a.left + len, py);
        ctx.moveTo(a.right, py);
        ctx.lineTo(a.right - len, py);
      }
    }
    ctx.stroke();
    ctx.lineWidth = 2;
    ctx.strokeRect(a.left, a.top, a.right - a.left, a.bottom - a.top);

    ctx.fillStyle = '#111';
    ctx.textBaseline = 'middle';
    if (o.yLabels) {
      for (let e = o.yMinExp; e <= o.yMaxExp; e++) {
        if (e === o.yMinExp && !o.bottomLabel) continue;
        const py = ys.getPixelForValue(Math.pow(10, e));
        let cy = py + 1;
        if (e === o.yMaxExp) cy = py + 8;
        if (e === o.yMinExp) cy = py - 5;
        const expTxt = String(e);
        ctx.font = '12px ' + FONT;
        ctx.textAlign = 'right';
        const we = ctx.measureText(expTxt).width;
        ctx.fillText(expTxt, a.left - 3, cy - 6);
        ctx.font = '16px ' + FONT;
        (ctx as any).letterSpacing = '1px';
        ctx.fillText('10', a.left - 3 - we, cy);
        (ctx as any).letterSpacing = '0px';
      }
    }
    if (o.xLabels) {
      ctx.font = '18px ' + FONT;
      (ctx as any).letterSpacing = '1px';
      X_TICK_VALUES.forEach((v, i) => {
        if (v === 2 && !o.showTwo) return;
        const px = xs.getPixelForValue(v);
        if (v === 1000) {
          ctx.textAlign = 'right';
          ctx.fillText(X_TICK_LABELS[i], a.right + 1, a.bottom + 21);
        } else {
          ctx.textAlign = 'center';
          ctx.fillText(X_TICK_LABELS[i], px + (v === 10 ? 3 : 0), a.bottom + 21);
        }
      });
      ctx.font = '17px ' + FONT;
      ctx.textAlign = 'center';
      ctx.fillText('Multipole \u2113', (a.left + a.right) / 2, a.bottom + 45);
      (ctx as any).letterSpacing = '0px';
    }
    ctx.restore();
  },
};

function Panel({ p }: { p: any }) {
  const ref = useRef<HTMLCanvasElement>(null);
  const left = p.col === 0 ? 0 : 700;
  const width = p.col === 0 ? 730 : 665;
  const padL = PLOT_LEFT[p.col] - left;
  const padR = left + width - PLOT_RIGHT[p.col];
  const plotTop = PLOT_TOP0 + p.row * PLOT_H;
  const top = p.row === 0 ? 0 : plotTop - 16;
  const bottomEdge = p.row === 3 ? 1740 : plotTop + PLOT_H + 16;
  const height = bottomEdge - top;
  const padT = plotTop - top;
  const padB = bottomEdge - (plotTop + PLOT_H);

  useEffect(() => {
    if (!ref.current) return;
    const datasets = SERIES.map((s, k) => {
      const pts = ELL.map((x, i) => ({ x, y: p.series[k][i] }));
      const ex = p.extra[k];
      if (ex) ELL_X.forEach((x, i) => pts.push({ x, y: ex[i] }));
      pts.sort((u, v) => u.x - v.x);
      return {
        label: s.label + ' (' + s.release + ')',
        data: pts,
        borderColor: s.color,
        backgroundColor: s.color,
        borderWidth: s.width,
        pointRadius: 0,
        tension: 0,
        fill: false,
        order: s.order,
      };
    });
    const chart = new Chart(ref.current, {
      type: 'line',
      data: { datasets },
      plugins: [idlAxes],
      options: {
        animation: false,
        responsive: false,
        devicePixelRatio: window.devicePixelRatio || 1,
        layout: { padding: { left: padL, right: padR, top: padT, bottom: padB } },
        plugins: {
          legend: { display: false },
          tooltip: { enabled: false },
          idlAxes: {
            yMinExp: p.yMinExp,
            yMaxExp: p.yMaxExp,
            yLabels: p.col === 0,
            xLabels: p.row === 3,
            bottomLabel: p.row === 3,
            showTwo: p.col === 0,
          },
        } as any,
        scales: {
          x: { type: 'logarithmic', min: X_MIN, max: X_MAX, display: false },
          y: { type: 'logarithmic', min: Math.pow(10, p.yMinExp), max: Math.pow(10, p.yMaxExp), display: false },
        },
      },
    } as any);
    return () => chart.destroy();
  }, []);

  return (
    <canvas
      ref={ref}
      width={width}
      height={height}
      style={{ position: 'absolute', left, top, width, height }}
    />
  );
}

const textBase: React.CSSProperties = {
  position: 'absolute',
  whiteSpace: 'nowrap',
  fontFamily: FONT,
  lineHeight: 1,
};

export default function App() {
  const legendRows = [0, 1, 2, 3];
  return (
    <div style={{ position: 'absolute', left: 0, top: 0, width: 1365, height: 1740, background: '#fff', overflow: 'hidden' }}>
      {PANELS.map((p, i) => (
        <Panel key={i} p={p} />
      ))}
      {PANELS.map((p, i) => {
        const plotTop = PLOT_TOP0 + p.row * PLOT_H;
        return (
          <React.Fragment key={'t' + i}>
            <div style={{ ...textBase, left: PLOT_LEFT[p.col] + 34, top: plotTop + 36, transform: 'translateY(-50%)', fontSize: 17, letterSpacing: '1.5px', color: '#222' }}>
              {p.title}
            </div>
            <div
              style={{
                ...textBase,
                left: PLOT_RIGHT[p.col] - 32,
                top: plotTop + 36,
                transform: 'translate(-100%, -50%)',
                fontSize: 20,
                fontStyle: 'italic',
                fontFamily: p.spec === 'EE' ? '"Liberation Serif", "DejaVu Serif", serif' : FONT,
                letterSpacing: '1.5px',
                color: '#222',
              }}
            >
              {p.spec}
            </div>
            {p.col === 0 && (
              <div
                style={{
                  ...textBase,
                  left: 22,
                  top: plotTop + PLOT_H / 2 + 4,
                  transform: 'translate(-50%, -50%) rotate(-90deg)',
                  fontSize: 21,
                  letterSpacing: '1.5px',
                  color: '#111',
                }}
              >
                <span style={{ fontFamily: '"Liberation Serif", serif', fontStyle: 'italic', fontSize: 25 }}>{'\u0108'}</span>
                <sub style={{ fontStyle: 'italic', fontSize: 15 }}>{'\u2113'}</sub>
                {' ['}
                <span style={{ fontFamily: '"Liberation Serif", serif', fontStyle: 'italic' }}>{'\u03bc'}</span>
                {'K\u00b2]'}
              </div>
            )}
          </React.Fragment>
        );
      })}
      {/* legend */}
      <div style={{ ...textBase, left: 276, top: 82, transform: 'translateY(-50%)', fontSize: 15.5, letterSpacing: '2.4px', color: '#222' }}>2015 release</div>
      <div style={{ ...textBase, left: 517, top: 82, transform: 'translateY(-50%)', fontSize: 15.5, letterSpacing: '2.4px', color: '#222' }}>pre-2016 data</div>
      {legendRows.map((r) => (
        <React.Fragment key={'lg' + r}>
          <div style={{ ...textBase, left: 276, top: 108 + r * 26, transform: 'translateY(-50%)', fontSize: 15.5, letterSpacing: '2.4px', color: SERIES[r].color }}>
            {SERIES[r].label}
          </div>
          <div style={{ ...textBase, left: 517, top: 108 + r * 26, transform: 'translateY(-50%)', fontSize: 15.5, letterSpacing: '2.4px', color: SERIES[r + 4].color }}>
            {SERIES[r + 4].label}
          </div>
        </React.Fragment>
      ))}
    </div>
  );
}
